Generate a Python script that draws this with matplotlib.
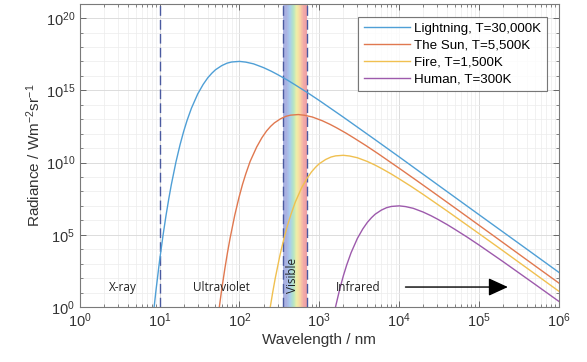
import numpy as np
import matplotlib
matplotlib.use("Agg")
import matplotlib.pyplot as plt
from matplotlib.colors import LinearSegmentedColormap
from matplotlib.ticker import LogLocator, NullFormatter

plt.rcParams['font.family'] = ['Liberation Sans', 'DejaVu Sans']
plt.rcParams['mathtext.fontset'] = 'custom'
plt.rcParams['mathtext.rm'] = 'Liberation Sans'
plt.rcParams['mathtext.it'] = 'Liberation Sans:italic'

# ---- data ----
light_wl = [8.5, 9, 10, 11, 12, 13, 14, 16, 18, 20, 22, 25, 30, 35, 40, 45, 50, 60, 70, 80,
            100, 120, 150, 200, 250, 300, 400, 500, 700, 1000, 2000, 3000, 5000, 1e4, 3e4,
            1e5, 3e5, 1e6]
light_logB = [-0.07, 1.17, 3.25, 4.93, 6.32, 7.48, 8.47, 10.04, 11.23, 12.16, 12.90, 13.76,
              14.75, 15.40, 15.86, 16.18, 16.42, 16.71, 16.88, 16.96, 17.00, 16.95, 16.83,
              16.57, 16.32, 16.09, 15.70, 15.37, 14.86, 14.29, 13.14, 12.45, 11.58, 10.39,
              8.48, 6.39, 4.49, 2.40]

sun_wl = [55.9, 60.0, 65.5, 70.9, 76.4, 87.3, 98.2, 109, 120, 136, 164, 191, 218, 245, 273,
          327, 382, 436, 545, 655, 818, 1091, 1364, 1636, 2182, 2727, 3818, 5455, 1.09e4,
          1.64e4, 2.73e4, 5.45e4, 1.64e5, 5.45e5, 1e6]
sun_logB = [0.00, 1.25, 2.64, 3.80, 4.79, 6.36, 7.55, 8.48, 9.22, 10.08, 11.07, 11.72, 12.18,
            12.50, 12.74, 13.03, 13.20, 13.28, 13.32, 13.27, 13.15, 12.89, 12.64, 12.41,
            12.02, 11.69, 11.18, 10.61, 9.46, 8.77, 7.90, 6.71, 4.80, 2.71, 1.66]

fire_wl = [243, 260, 280, 320, 360, 400, 440, 500, 600, 700, 800, 900, 1000, 1200, 1400,
           1600, 2000, 2400, 3000, 4000, 5000, 6000, 8000, 1e4, 1.4e4, 2e4, 4e4, 6e4, 1e5,
           2e5, 6e5, 1e6]
fire_logB = [0.00, 0.98, 1.97, 3.54, 4.73, 5.66, 6.39, 7.26, 8.25, 8.90, 9.36, 9.68, 9.92,
             10.21, 10.38, 10.46, 10.50, 10.45, 10.33, 10.07, 9.82, 9.59, 9.20, 8.87, 8.36,
             7.79, 6.64, 5.95, 5.08, 3.89, 1.98, 1.09]

human_wl = [1595, 1800, 2000, 2200, 2500, 3000, 3500, 4000, 4500, 5000, 6000, 7000, 8000,
            1e4, 1.2e4, 1.5e4, 2e4, 2.5e4, 3e4, 4e4, 5e4, 7e4, 1e5, 2e5, 3e5, 5e5, 1e6]
human_logB = [0.00, 1.23, 2.16, 2.90, 3.76, 4.75, 5.40, 5.86, 6.18, 6.42, 6.71, 6.88, 6.96,
              7.00, 6.95, 6.83, 6.57, 6.32, 6.09, 5.70, 5.37, 4.86, 4.29, 3.14, 2.45, 1.58,
              0.39]

series_labels = ["Lightning, T=30,000K", "The Sun, T=5,500K", "Fire, T=1,500K", "Human, T=300K"]
band_edges = [10, 350, 700]          # dashed region boundaries (nm)
visible_range = [350, 700]
region_labels = ["X-ray", "Ultraviolet", "Infrared"]
region_x = [3.45, 60, 3100]
label_y = 24

colors = ['#4f9fd6', '#e0784f', '#f0c050', '#9d5aac']

fig = plt.figure(figsize=(5.87, 3.62), dpi=100)
ax = fig.add_axes([0.136, 0.152, 0.816, 0.838])
ax.set_xscale('log')
ax.set_yscale('log')
ax.set_xlim(1, 1e6)
ax.set_ylim(1, 1e21)

# rainbow band
stops = ['#aab2e2', '#aab2e2', '#a9cdee', '#b2e4c6', '#f0efa6', '#f8d3a2', '#f2aaa8', '#ee9ea3']
cmap = LinearSegmentedColormap.from_list('vis', stops)
n = 60
edges = np.logspace(np.log10(visible_range[0]), np.log10(visible_range[1]), n + 1)
for i in range(n):
    ax.axvspan(edges[i], edges[i + 1], color=cmap((i + 0.5) / n), lw=0, zorder=1)

for xb in band_edges:
    ax.axvline(xb, color='#4a5aa0', lw=1.0, ls=(0, (7, 3)), zorder=2)

for wl, lb, c, lab in zip([light_wl, sun_wl, fire_wl, human_wl],
                          [light_logB, sun_logB, fire_logB, human_logB], colors, series_labels):
    ax.plot(wl, 10 ** np.array(lb), color=c, lw=1.0, label=lab, zorder=3)

# ticks and grid
ax.set_yticks([1e0, 1e5, 1e10, 1e15, 1e20])
ax.set_yticks([10.0 ** k for k in range(0, 22) if k % 5 != 0], minor=True)
ax.yaxis.set_minor_formatter(NullFormatter())
ax.xaxis.set_minor_locator(LogLocator(base=10, subs=np.arange(2, 10), numticks=30))
ax.xaxis.set_minor_formatter(NullFormatter())
ax.tick_params(which='both', direction='in', top=True, right=True, colors='#555555',
               labelcolor='#333333', labelsize=10.5)
ax.tick_params(which='major', length=4, width=0.6)
ax.tick_params(which='minor', length=2, width=0.5)
ax.grid(True, which='major', color='#dcdcdc', lw=0.7, zorder=0)
ax.grid(True, which='minor', color='#ececec', lw=0.5, zorder=0)
ax.set_axisbelow(True)
for s in ax.spines.values():
    s.set_color('#7a7a7a')
    s.set_linewidth(0.8)

ax.set_xlabel('Wavelength / nm', fontsize=11, color='#333333', labelpad=2)
ax.set_ylabel(r'Radiance / Wm$^{-2}$sr$^{-1}$', fontsize=11, color='#333333', labelpad=2)

leg = ax.legend(loc='upper right', bbox_to_anchor=(0.983, 0.97), fontsize=9.6, frameon=True,
                fancybox=False, edgecolor='#555555', handlelength=3.4, borderpad=0.45,
                labelspacing=0.33, handletextpad=0.3, borderaxespad=0.3)
leg.get_frame().set_linewidth(0.8)
leg.set_zorder(5)

for t, x in zip(region_labels, region_x):
    ax.text(x, label_y, t, ha='center', va='center', fontsize=8.5, family='Open Sans',
            color='#222222', zorder=4)
ax.text(460, 10 ** 2.15, 'Visible', rotation=90, ha='center', va='center', fontsize=8.5,
        family='Open Sans', color='#222222', zorder=4)

ax.annotate('', xy=(2.3e5, label_y), xytext=(1.2e4, label_y),
            arrowprops=dict(arrowstyle='-|>,head_length=1.2,head_width=0.55', color='black',
                            lw=1.0, shrinkA=0, shrinkB=0), zorder=4)

fig.savefig('out.png', dpi=100, facecolor='white')
